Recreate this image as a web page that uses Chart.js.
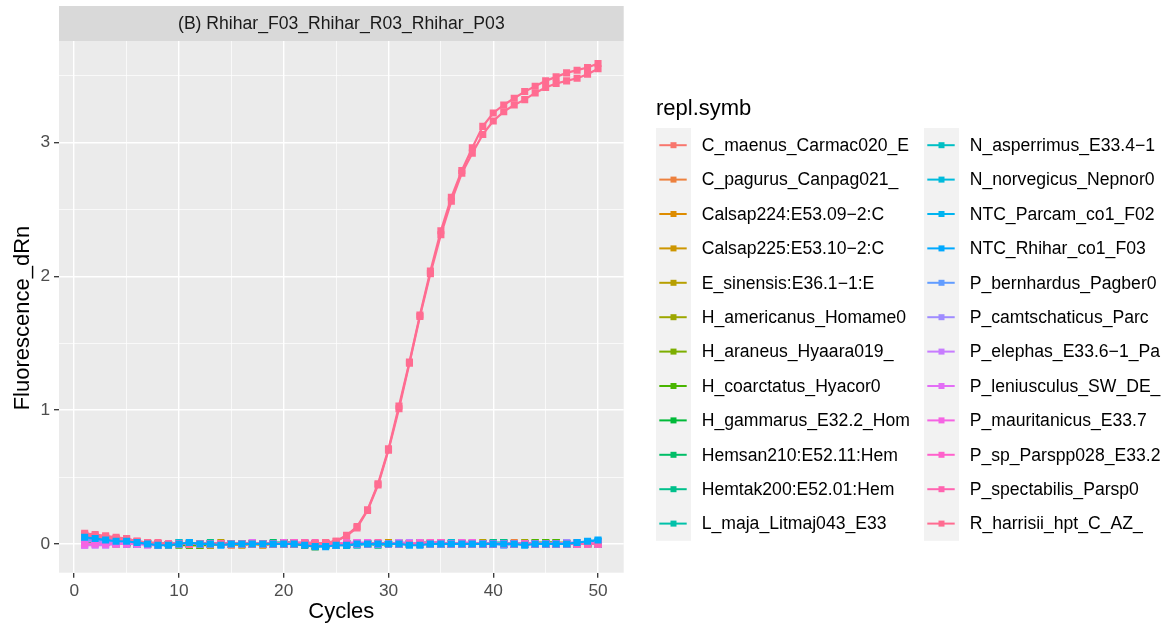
<!DOCTYPE html>
<html>
<head>
<meta charset="utf-8">
<title>Rhihar qPCR</title>
<script src="https://cdn.jsdelivr.net/npm/chart.js@4.4.1/dist/chart.umd.min.js"></script>
<style>
  html, body { margin: 0; padding: 0; background: #ffffff; }
  canvas { display: block; }
</style>
</head>
<body>
<canvas id="qpcrChart" width="1172" height="628"></canvas>
<script>
'use strict';

// Data
const stripTitle = '(B) Rhihar_F03_Rhihar_R03_Rhihar_P03';
const xTitle = 'Cycles';
const yTitle = 'Fluorescence_dRn';
const legendTitle = 'repl.symb';

const cycles = [1,2,3,4,5,6,7,8,9,10,11,12,13,14,15,16,17,18,19,20,21,22,23,24,25,
  26,27,28,29,30,31,32,33,34,35,36,37,38,39,40,41,42,43,44,45,46,47,48,49,50];
const xTicks = [0, 10, 20, 30, 40, 50];
const yTicks = [0, 1, 2, 3];

const sampleNames = [
  'C_maenus_Carmac020_E', 'C_pagurus_Canpag021_', 'Calsap224:E53.09\u22122:C', 'Calsap225:E53.10\u22122:C',
  'E_sinensis:E36.1\u22121:E', 'H_americanus_Homame0', 'H_araneus_Hyaara019_', 'H_coarctatus_Hyacor0',
  'H_gammarus_E32.2_Hom', 'Hemsan210:E52.11:Hem', 'Hemtak200:E52.01:Hem', 'L_maja_Litmaj043_E33',
  'N_asperrimus_E33.4\u22121', 'N_norvegicus_Nepnor0', 'NTC_Parcam_co1_F02', 'NTC_Rhihar_co1_F03',
  'P_bernhardus_Pagber0', 'P_camtschaticus_Parc', 'P_elephas_E33.6\u22121_Pa', 'P_leniusculus_SW_DE_',
  'P_mauritanicus_E33.7', 'P_sp_Parspp028_E33.2', 'P_spectabilis_Parsp0', 'R_harrisii_hpt_C_AZ_'
];

// one array per sample (dRn per cycle)
const cMaenus = [.02,.02,.01,.01,.01,0,0,0,0,0, 0,0,-.01,0,0,0,.01,0,0,0, 0,-.01,0,0,0,0,.01,0,0,0, 0,.01,0,0,0,.01,0,0,0,0, .01,0,0,0,0,0,.01,0,0,.01];
const cPagurus = [.03,.02,.02,.01,.01,0,0,0,-.01,0, 0,0,0,0,-.01,0,0,0,0,.01, 0,0,0,0,0,0,0,.01,0,0, 0,0,0,.01,.01,0,0,0,0,0, 0,.01,0,0,0,0,0,.01,0,0];
const calsap224 = [.01,.01,.01,0,0,0,0,0,0,0, .01,0,0,0,0,0,0,-.01,0,0, 0,0,0,0,0,0,0,0,0,0, 0,0,0,0,0,0,0,0,0,.01, 0,0,0,.01,0,0,0,0,0,0];
const calsap225 = [.02,.01,.01,.01,0,0,0,0,0,.01, 0,0,0,0,0,-.01,0,0,0,0, 0,0,-.01,0,0,0,0,0,0,.01, 0,0,0,0,0,0,0,.01,0,0, 0,0,0,0,.01,0,0,0,0,0];
const eSinensis = [.02,.02,.01,.01,.01,0,0,-.01,0,0, 0,0,0,.01,0,0,0,0,0,0, 0,0,-.01,-.01,0,0,0,0,0,0, .01,0,0,0,0,0,0,0,.01,0, 0,0,0,0,0,.01,.01,0,0,0];
const hAmericanus = [.03,.02,.02,.01,.01,.01,0,0,0,0, 0,-.01,-.01,0,0,0,0,0,0,.01, .01,0,0,-.01,0,0,0,0,0,0, 0,0,0,0,0,0,.01,0,0,0, 0,0,.01,0,0,0,0,0,0,0];
const hAraneus = [.02,.01,.01,0,0,0,0,0,0,0, -.01,-.01,0,0,0,0,0,0,0,0, 0,0,-.02,-.01,0,0,0,0,0,0, 0,0,0,0,0,0,0,0,0,0, 0,0,0,0,.01,.01,0,0,0,0];
const hCoarctatus = [.03,.02,.01,.01,0,0,0,0,0,-.01, -.01,-.01,0,0,0,0,0,0,0,0, 0,-.01,-.02,-.01,0,0,0,0,0,0, 0,0,.01,.01,.01,0,0,0,0,0, 0,0,0,.01,.01,.01,0,0,0,0];
const hGammarus = [.02,.02,.01,.01,0,0,0,0,0,0, 0,0,0,0,0,0,0,0,0,.01, .01,0,0,0,-.01,0,0,0,0,0, 0,0,0,0,0,0,0,0,0,0, .01,0,0,0,0,0,0,0,0,0];
const hemsan210 = [.04,.03,.02,.02,.01,.01,0,0,0,0, 0,0,0,0,0,0,0,0,.01,.01, 0,0,0,0,0,-.01,0,0,0,0, 0,0,0,0,0,0,0,0,0,0, 0,0,0,0,0,0,0,0,.01,0];
const hemtak200 = [.03,.02,.02,.01,.01,0,0,0,0,0, 0,0,.01,0,0,0,0,0,0,0, 0,.01,0,0,0,0,0,0,-.01,0, 0,0,0,0,0,0,0,0,0,.01, .01,0,0,0,0,0,0,0,0,.01];
const lMaja = [.04,.03,.02,.01,.01,0,0,0,0,0, 0,0,0,0,0,0,0,0,0,0, 0,0,0,0,-.01,-.01,0,0,0,0, 0,0,0,0,0,0,0,0,0,0, 0,0,0,0,0,0,0,0,0,.01];
const nAsperrimus = [.03,.03,.02,.02,.01,.01,0,0,0,0, 0,0,0,0,0,0,0,0,0,0, 0,0,0,0,0,0,-.01,0,0,0, 0,0,0,0,0,0,0,0,0,0, 0,0,0,0,0,0,0,0,.01,.01];
const nNorvegicus = [.04,.03,.02,.01,.01,0,0,0,0,.01, 0,0,0,0,0,0,0,0,0,0, 0,0,0,-.01,-.01,0,0,0,0,0, 0,0,0,0,0,.01,0,0,0,0, 0,0,0,0,0,0,0,0,.01,.02];
const ntcParcam = [.05,.04,.03,.02,.01,0,0,-.01,0,0, .01,0,0,0,0,0,0,0,0,0, 0,0,-.01,-.01,-.01,0,0,0,0,0, 0,0,0,0,0,0,0,0,0,0, 0,0,0,0,0,0,0,0,.01,.02];
const ntcRhihar = [.05,.04,.03,.02,.02,.01,0,-.01,-.01,0, .01,0,0,-.01,0,0,0,0,0,0, 0,-.01,-.02,-.02,-.01,-.01,0,0,0,0, 0,-.01,-.01,0,0,0,0,0,0,0, 0,0,-.01,0,0,0,0,.01,.02,.03];
const pBernhardus = [.04,.03,.02,.02,.01,.01,0,0,0,0, 0,0,0,0,0,0,0,0,0,0, 0,0,0,0,-.01,0,0,0,0,0, 0,0,0,0,0,0,0,0,0,0, -.01,0,0,0,0,0,0,0,0,0];
const pCamtschaticus = [.02,.02,.01,.01,0,0,0,0,0,0, 0,0,0,0,0,0,0,0,0,0, 0,0,0,0,0,0,0,.01,0,0, 0,0,0,0,0,0,0,0,0,0, 0,0,0,0,0,0,.01,.01,0,.01];
const pElephas = [-.01,-.01,-.01,0,0,0,0,0,0,0, 0,0,0,0,0,0,0,0,0,0, 0,0,0,0,0,0,0,0,0,0, .01,.01,0,0,0,0,0,0,0,0, 0,0,0,0,0,0,0,0,0,0];
const pLeniusculus = [-.01,0,0,0,0,0,-.01,-.01,0,0, 0,0,0,0,0,0,.01,0,0,0, .01,.01,0,0,0,.01,.01,0,0,0, 0,0,0,.01,.01,0,0,.01,0,0, 0,0,0,0,0,0,0,0,0,0];
const pMauritanicus = [0,0,0,0,0,0,0,0,0,0, 0,0,0,0,0,0,0,0,0,.01, .01,0,0,0,0,0,.01,.01,0,0, 0,0,.01,.01,.01,0,.01,.01,0,0, 0,0,0,0,0,0,0,0,0,0];
const pSp = [.06,.05,.04,.03,.03,.01,0,0,0,0, 0,0,0,0,0,0,0,0,0,0, .01,.01,0,0,0,0,0,0,0,0, 0,0,0,.01,.01,0,0,0,0,0, 0,0,0,0,0,0,0,0,0,0];
const pSpectabilis = [.07,.06,.05,.04,.04,.02,.01,0,0,0, 0,0,0,0,0,0,0,0,0,0, 0,.01,.01,0,0,0,0,0,.01,0, 0,0,0,0,0,0,0,0,0,0, 0,0,0,0,0,0,0,0,0,0];
// R. harrisii amplified in two wells
const rHarrisiiA = [.08,.07,.06,.05,.04,.02,.01,.01,0,0, 0,0,0,0,0,0,0,0,0,0, 0,0,0,.01,.02,.065,.13,.255,.45,.71,
  1.03,1.36,1.71,2.04,2.34,2.59,2.79,2.96,3.12,3.22, 3.28,3.33,3.38,3.42,3.46,3.49,3.52,3.54,3.56,3.59];
const rHarrisiiB = [.06,.05,.05,.04,.03,.02,.01,0,0,0, 0,0,0,0,0,0,0,0,0,0, 0,0,0,.01,.02,.06,.12,.25,.44,.70,
  1.01,1.35,1.70,2.02,2.31,2.56,2.77,2.92,3.06,3.16, 3.23,3.28,3.32,3.37,3.41,3.44,3.46,3.48,3.51,3.55];

const sampleValues = [cMaenus, cPagurus, calsap224, calsap225, eSinensis, hAmericanus, hAraneus,
  hCoarctatus, hGammarus, hemsan210, hemtak200, lMaja, nAsperrimus, nNorvegicus, ntcParcam,
  ntcRhihar, pBernhardus, pCamtschaticus, pElephas, pLeniusculus, pMauritanicus, pSp,
  pSpectabilis, rHarrisiiA];

// ggplot2 default hue palette
function hclColor(h, c, l) {
  const rad = h * Math.PI / 180;
  const U = c * Math.cos(rad);
  const V = c * Math.sin(rad);
  const Y = 100 * Math.pow((l + 16) / 116, 3);
  const u = U / (13 * l) + 0.1978398;
  const v = V / (13 * l) + 0.4683363;
  const X = 9 * Y * u / (4 * v);
  const Z = -X / 3 - 5 * Y + 3 * Y / v;
  const x = X / 100, y = Y / 100, z = Z / 100;
  const lin = [
    3.240479 * x - 1.537150 * y - 0.498535 * z,
    -0.969256 * x + 1.875992 * y + 0.041556 * z,
    0.055648 * x - 0.204043 * y + 1.057311 * z
  ];
  const out = lin.map(function(t) {
    let g = t <= 0.0031308 ? 12.92 * t : 1.055 * Math.pow(t, 1 / 2.4) - 0.055;
    g = Math.min(1, Math.max(0, g));
    return Math.round(g * 255);
  });
  return 'rgb(' + out.join(',') + ')';
}

const palette = sampleNames.map(function(name, i) {
  return hclColor(15 + i * 15, 100, 65);
});

const baseFont = "'Liberation Sans', Arial, Helvetica, sans-serif";

function makeDataset(label, values, color, order, inLegend) {
  return {
    label: label,
    data: values.map(function(v, i) { return { x: cycles[i], y: v }; }),
    borderColor: color,
    backgroundColor: color,
    borderWidth: 2.2,
    pointStyle: 'rect',
    pointRadius: 5,
    pointBorderWidth: 0,
    pointBackgroundColor: color,
    tension: 0,
    order: order,
    inLegend: inLegend
  };
}

const datasets = [];
sampleNames.forEach(function(name, i) {
  // NTC_Rhihar sits on top at the baseline
  const order = name === 'NTC_Rhihar_co1_F03' ? 0 : 30 - i;
  datasets.push(makeDataset(name, sampleValues[i], palette[i], order, true));
});
datasets.push(makeDataset(sampleNames[23], rHarrisiiB, palette[23], 5, false));

// Panel, strip, axis titles and legend drawn ggplot-style
const ggPlugin = {
  id: 'ggStyle',
  beforeDraw(chart) {
    const ctx = chart.ctx;
    const a = chart.chartArea;
    ctx.save();
    ctx.fillStyle = '#EBEBEB';
    ctx.fillRect(a.left, a.top, a.right - a.left, a.bottom - a.top);
    ctx.fillStyle = '#D9D9D9';
    ctx.fillRect(a.left, 6, a.right - a.left, a.top - 6);
    ctx.fillStyle = '#1A1A1A';
    ctx.font = '17.6px ' + baseFont;
    ctx.textAlign = 'center';
    ctx.textBaseline = 'middle';
    ctx.fillText(stripTitle, (a.left + a.right) / 2, (6 + a.top) / 2 + 1);
    ctx.restore();
  },
  afterDraw(chart) {
    const ctx = chart.ctx;
    const a = chart.chartArea;
    ctx.save();
    ctx.fillStyle = '#000000';
    ctx.font = '22px ' + baseFont;
    ctx.textAlign = 'center';
    ctx.textBaseline = 'middle';
    ctx.fillText(xTitle, (a.left + a.right) / 2, 612);
    ctx.save();
    ctx.translate(23, 318);
    ctx.rotate(-Math.PI / 2);
    ctx.fillText(yTitle, 0, 0);
    ctx.restore();

    // legend
    ctx.textAlign = 'left';
    ctx.fillText(legendTitle, 656, 109);
    const colX = [656, 924];
    const rowTop = 128;
    const rowH = 34.4;
    const perCol = 12;
    ctx.fillStyle = '#F2F2F2';
    colX.forEach(function(x) { ctx.fillRect(x, rowTop, 35, rowH * perCol); });
    ctx.font = '17.6px ' + baseFont;
    chart.data.datasets.filter(function(d) { return d.inLegend; }).forEach(function(d, k) {
      const x = colX[Math.floor(k / perCol)];
      const cy = rowTop + rowH * (k % perCol + 0.5);
      ctx.strokeStyle = d.borderColor;
      ctx.lineWidth = 2;
      ctx.beginPath();
      ctx.moveTo(x + 3.3, cy);
      ctx.lineTo(x + 30.7, cy);
      ctx.stroke();
      ctx.fillStyle = d.borderColor;
      ctx.fillRect(x + 17.5 - 3, cy - 3, 6, 6);
      ctx.fillStyle = '#000000';
      ctx.fillText(d.label, x + 45.7, cy + 1);
    });
    ctx.restore();
  }
};

function gridWidth(major) {
  return function(c) { return c.tick && major(c.tick.value) ? 1.4 : 0.7; };
}
function tickColor(major) {
  return function(c) { return c.tick && major(c.tick.value) ? '#333333' : 'rgba(0,0,0,0)'; };
}
const isXMajor = function(v) { return xTicks.includes(v); };
const isYMajor = function(v) { return yTicks.includes(v); };

const ctx = document.getElementById('qpcrChart').getContext('2d');
const qpcrChart = new Chart(ctx, {
  type: 'line',
  data: { datasets: datasets },
  plugins: [ggPlugin],
  options: {
    responsive: false,
    animation: false,
    devicePixelRatio: 1,
    layout: { padding: { top: 41, right: 548.3, left: 0, bottom: 0 } },
    plugins: {
      legend: { display: false },
      title: { display: false },
      tooltip: { enabled: false }
    },
    scales: {
      x: {
        type: 'linear',
        min: -1.45,
        max: 52.45,
        afterFit: function(scale) { scale.height = 55.3; },
        border: { display: false },
        grid: {
          color: '#FFFFFF',
          lineWidth: gridWidth(isXMajor),
          tickLength: 5,
          tickColor: tickColor(isXMajor),
          tickWidth: 1.3
        },
        ticks: {
          stepSize: 5,
          includeBounds: false,
          autoSkip: false,
          maxRotation: 0,
          padding: 3,
          color: '#4D4D4D',
          font: { family: baseFont, size: 17.3 },
          callback: function(v) { return isXMajor(v) ? String(v) : ''; }
        }
      },
      y: {
        type: 'linear',
        min: -0.215,
        max: 3.758,
        afterFit: function(scale) { scale.width = 59; },
        border: { display: false },
        grid: {
          color: '#FFFFFF',
          lineWidth: gridWidth(isYMajor),
          tickLength: 5,
          tickColor: tickColor(isYMajor),
          tickWidth: 1.3
        },
        ticks: {
          stepSize: 0.5,
          includeBounds: false,
          autoSkip: false,
          padding: 4,
          color: '#4D4D4D',
          font: { family: baseFont, size: 17.3 },
          callback: function(v) { return isYMajor(v) ? String(v) : ''; }
        }
      }
    }
  }
});
</script>
</body>
</html>
